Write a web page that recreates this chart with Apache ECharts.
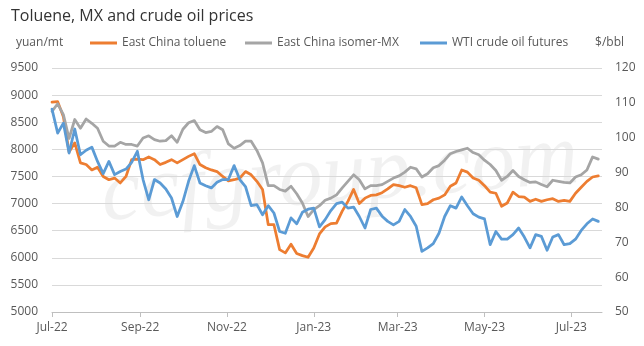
<!DOCTYPE html>
<html>
<head>
<meta charset="utf-8">
<script src="https://cdn.jsdelivr.net/npm/echarts@6/dist/echarts.min.js"></script>
<style>
  html, body { margin: 0; padding: 0; background: #fff; }
  #chart { width: 644px; height: 346px; }
</style>
</head>
<body>
<div id="chart"></div>
<script>
// Sample dates (every four days) shared by the three price series
const dates = [
  '2022-07-01','2022-07-05','2022-07-09','2022-07-13','2022-07-17','2022-07-21','2022-07-25','2022-07-29',
  '2022-08-02','2022-08-06','2022-08-10','2022-08-14','2022-08-18','2022-08-22','2022-08-26','2022-08-30',
  '2022-09-03','2022-09-07','2022-09-11','2022-09-15','2022-09-19','2022-09-23','2022-09-27','2022-10-01',
  '2022-10-05','2022-10-09','2022-10-13','2022-10-17','2022-10-21','2022-10-25','2022-10-29','2022-11-02',
  '2022-11-06','2022-11-10','2022-11-14','2022-11-18','2022-11-22','2022-11-26','2022-11-30','2022-12-04',
  '2022-12-08','2022-12-12','2022-12-16','2022-12-20','2022-12-24','2022-12-28','2023-01-01','2023-01-05',
  '2023-01-09','2023-01-13','2023-01-17','2023-01-21','2023-01-25','2023-01-29','2023-02-02','2023-02-06',
  '2023-02-10','2023-02-14','2023-02-18','2023-02-22','2023-02-26','2023-03-02','2023-03-06','2023-03-10',
  '2023-03-14','2023-03-18','2023-03-22','2023-03-26','2023-03-30','2023-04-03','2023-04-07','2023-04-11',
  '2023-04-15','2023-04-19','2023-04-23','2023-04-27','2023-05-01','2023-05-05','2023-05-09','2023-05-13',
  '2023-05-17','2023-05-21','2023-05-25','2023-05-29','2023-06-02','2023-06-06','2023-06-10','2023-06-14',
  '2023-06-18','2023-06-22','2023-06-26','2023-06-30','2023-07-04','2023-07-08','2023-07-12','2023-07-16',
  '2023-07-20'
];

// East China toluene, yuan/mt
const toluene = [
  8870, 8880, 8600, 7950, 8120, 7750, 7720, 7620, 7670, 7500, 7440, 7470, 7380, 7500, 7810, 7820,
  7810, 7860, 7810, 7720, 7760, 7810, 7750, 7810, 7870, 7920, 7720, 7660, 7620, 7590, 7500, 7420,
  7440, 7470, 7590, 7530, 7410, 7260, 6610, 6610, 6150, 6090, 6250, 6080, 6040, 6010, 6180, 6440,
  6570, 6630, 6640, 6860, 7040, 7260, 7000, 7100, 7150, 7160, 7200, 7270, 7350, 7330, 7300, 7330,
  7290, 6980, 7000, 7070, 7100, 7160, 7320, 7380, 7620, 7580, 7470, 7430, 7330, 7210, 7190, 6950,
  7010, 7210, 7130, 7120, 7040, 7080, 7040, 7070, 7090, 7040, 7060, 7040, 7190, 7300, 7410, 7490,
  7510
];

// East China isomer-MX, yuan/mt
const isomerMX = [
  8700, 8840, 8640, 8200, 8550, 8390, 8560, 8480, 8390, 8150, 8060, 8060, 8130, 8090, 8090, 8060,
  8210, 8250, 8180, 8150, 8160, 8250, 8130, 8370, 8490, 8530, 8360, 8310, 8330, 8420, 8360, 8100,
  8020, 8070, 8150, 8150, 7980, 7750, 7330, 7330, 7260, 7230, 7320, 7180, 7010, 6760, 6890, 6960,
  7060, 7100, 7160, 7290, 7410, 7530, 7440, 7270, 7330, 7330, 7350, 7410, 7470, 7510, 7580, 7670,
  7640, 7490, 7550, 7660, 7700, 7800, 7920, 7960, 7990, 8020, 7940, 7900, 7800, 7720, 7610, 7430,
  7500, 7610, 7500, 7440, 7390, 7400, 7350, 7310, 7430, 7410, 7390, 7380, 7490, 7530, 7620, 7860,
  7820
];

// WTI crude oil futures, $/bbl
const wti = [
  108.2, 101.3, 104.2, 95.6, 102.5, 95.1, 96.4, 97.3, 93.2, 89.7, 93.2, 89.4, 90.3, 91.0, 92.9, 96.1,
  88.0, 82.2, 88.0, 87.0, 85.3, 82.7, 77.4, 81.7, 87.5, 92.0, 87.0, 86.2, 85.6, 87.2, 88.0, 88.0,
  92.0, 88.0, 86.0, 80.5, 80.8, 77.9, 80.5, 78.4, 73.1, 72.6, 77.0, 75.3, 78.6, 79.5, 79.8, 74.4,
  76.5, 79.1, 81.1, 81.5, 79.8, 80.1, 77.4, 74.1, 79.4, 79.8, 77.5, 76.0, 75.0, 76.0, 79.4, 77.4,
  74.6, 67.4, 68.4, 69.6, 72.6, 77.4, 80.5, 79.8, 83.0, 80.5, 78.2, 77.2, 76.7, 69.3, 73.1, 70.9,
  70.9, 72.2, 74.1, 71.5, 68.4, 72.2, 71.7, 67.7, 71.5, 72.2, 69.3, 69.6, 70.9, 73.4, 75.3, 76.7,
  76.0
];

// Bi-monthly date labels on the horizontal axis
const tickDates = ['2022-07-01', '2022-09-01', '2022-11-01', '2023-01-01', '2023-03-01', '2023-05-01', '2023-07-01'];
const monthNames = ['Jan','Feb','Mar','Apr','May','Jun','Jul','Aug','Sep','Oct','Nov','Dec'];

const DAY = 86400000;
function dayValue(s) {
  const p = s.split('-').map(Number);
  return Date.UTC(p[0], p[1] - 1, p[2]) / DAY;
}

const tickValues = tickDates.map(dayValue);
const axisStart = dayValue('2022-07-01');
const axisEnd = dayValue('2023-07-22') + 0.6;

const FONT = '"Open Sans", "Noto Sans", sans-serif';
const TEXT = '#595959';

const chart = echarts.init(document.getElementById('chart'), null, { renderer: 'canvas' });

function seriesData(values) {
  return dates.map((d, i) => [dayValue(d), values[i]]);
}

function lineSeries(name, values, color, yIndex, z) {
  return {
    name: name,
    type: 'line',
    yAxisIndex: yIndex,
    data: seriesData(values),
    showSymbol: false,
    symbol: 'none',
    smooth: false,
    z: z,
    lineStyle: { color: color, width: 2.75, cap: 'round', join: 'round' },
    itemStyle: { color: color },
    emphasis: { disabled: true },
    animation: false
  };
}

function legendAt(name, left) {
  return {
    data: [name],
    left: left,
    top: 37,
    icon: 'rect',
    itemWidth: 27,
    itemHeight: 3,
    itemGap: 0,
    padding: 0,
    selectedMode: false,
    textStyle: { color: TEXT, fontFamily: FONT, fontSize: 12 }
  };
}

const option = {
  backgroundColor: '#ffffff',
  animation: false,
  textStyle: { fontFamily: FONT },
  title: {
    text: 'Toluene, MX and crude oil prices',
    left: 6,
    top: 3,
    textStyle: { color: '#333333', fontFamily: FONT, fontSize: 16, fontWeight: 'normal' }
  },
  legend: [
    legendAt('East China toluene', 90),
    legendAt('East China isomer-MX', 245),
    legendAt('WTI crude oil futures', 420)
  ],
  graphic: [
    {
      type: 'text', left: 16, top: 37, z: 10,
      style: { text: 'yuan/mt', font: '12px ' + FONT, fill: TEXT }
    },
    {
      type: 'text', right: 20, top: 37, z: 10,
      style: { text: '$/bbl', font: '12px ' + FONT, fill: TEXT }
    },
    {
      type: 'text', x: 340, y: 178, z: 0, silent: true,
      rotation: 0.08,
      style: {
        text: 'ccfgroup.com',
        font: 'italic 88px "Liberation Serif", "DejaVu Serif", serif',
        fill: 'rgba(0,0,0,0.055)',
        align: 'center',
        verticalAlign: 'middle'
      }
    }
  ],
  grid: { left: 52, right: 42, top: 68, bottom: 34, containLabel: false },
  xAxis: {
    type: 'value',
    min: axisStart,
    max: axisEnd,
    axisLine: { show: true, lineStyle: { color: '#bfbfbf', width: 1 } },
    axisTick: { show: true, customValues: tickValues, length: 5, lineStyle: { color: '#bfbfbf' } },
    splitLine: { show: false },
    axisLabel: {
      customValues: tickValues,
      color: TEXT,
      fontFamily: FONT,
      fontSize: 12,
      margin: 10,
      formatter: function (v) {
        const d = new Date(Math.round(v) * DAY);
        return monthNames[d.getUTCMonth()] + '-' + String(d.getUTCFullYear()).slice(2);
      }
    }
  },
  yAxis: [
    {
      type: 'value',
      position: 'left',
      min: 5000,
      max: 9500,
      interval: 500,
      axisLine: { show: false },
      axisTick: { show: false },
      splitLine: { show: true, lineStyle: { color: '#d9d9d9', width: 1 } },
      axisLabel: { color: TEXT, fontFamily: FONT, fontSize: 12, margin: 14, formatter: function (v) { return String(v); } }
    },
    {
      type: 'value',
      position: 'right',
      min: 50,
      max: 120,
      interval: 10,
      axisLine: { show: false },
      axisTick: { show: false },
      splitLine: { show: false },
      axisLabel: { color: TEXT, fontFamily: FONT, fontSize: 12, margin: 13 }
    }
  ],
  series: [
    lineSeries('East China toluene', toluene, '#ED7D31', 0, 3),
    lineSeries('East China isomer-MX', isomerMX, '#A5A5A5', 0, 4),
    lineSeries('WTI crude oil futures', wti, '#5B9BD5', 1, 5)
  ]
};

chart.setOption(option);
</script>
</body>
</html>
